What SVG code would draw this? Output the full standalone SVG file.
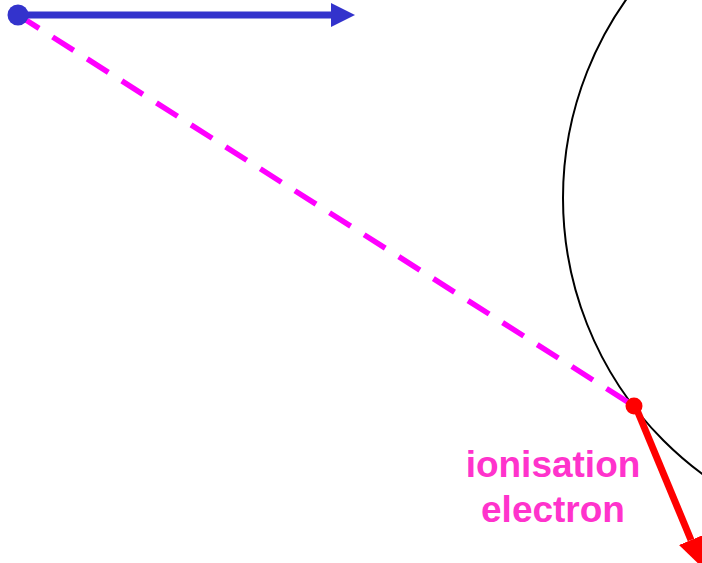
<svg xmlns="http://www.w3.org/2000/svg" width="702" height="563" viewBox="0 0 702 563">
<style>
.lbl{font-family:"Liberation Sans",Arial,sans-serif;font-weight:bold;font-size:37px;fill:#ff33cc;text-anchor:middle}
</style>
<defs>
<marker id="ab" markerUnits="userSpaceOnUse" markerWidth="30" markerHeight="30" refX="0" refY="12" orient="auto"><path d="M0,0 L24,12 L0,24 Z" fill="#3333cc"/></marker>
<marker id="ar" markerUnits="userSpaceOnUse" markerWidth="34" markerHeight="34" refX="0" refY="13" orient="auto"><path d="M0,0 L30,13 L0,26 Z" fill="#ff0000"/></marker>
</defs>
<rect width="702" height="563" fill="#ffffff"/>
<g id="shell"><circle cx="906" cy="198" r="343" fill="none" stroke="#000" stroke-width="2"/></g>
<g id="connectors">
<line x1="18" y1="15" x2="634" y2="406" stroke="#ff00ff" stroke-width="5.5" stroke-dasharray="25,16"/>
<line x1="18" y1="15" x2="331" y2="15" stroke="#3333cc" stroke-width="7" marker-end="url(#ab)"/>
<line x1="637" y1="410" x2="691" y2="540" stroke="#ff0000" stroke-width="7" marker-end="url(#ar)"/>
</g>
<g id="incident"><circle cx="18" cy="15" r="10.5" fill="#3333cc"/></g>
<g id="electron"><circle cx="634" cy="406" r="8.5" fill="#ff0000"/></g>
<g id="label"><text class="lbl" x="553" y="477">ionisation</text><text class="lbl" x="553" y="522">electron</text></g>
</svg>
